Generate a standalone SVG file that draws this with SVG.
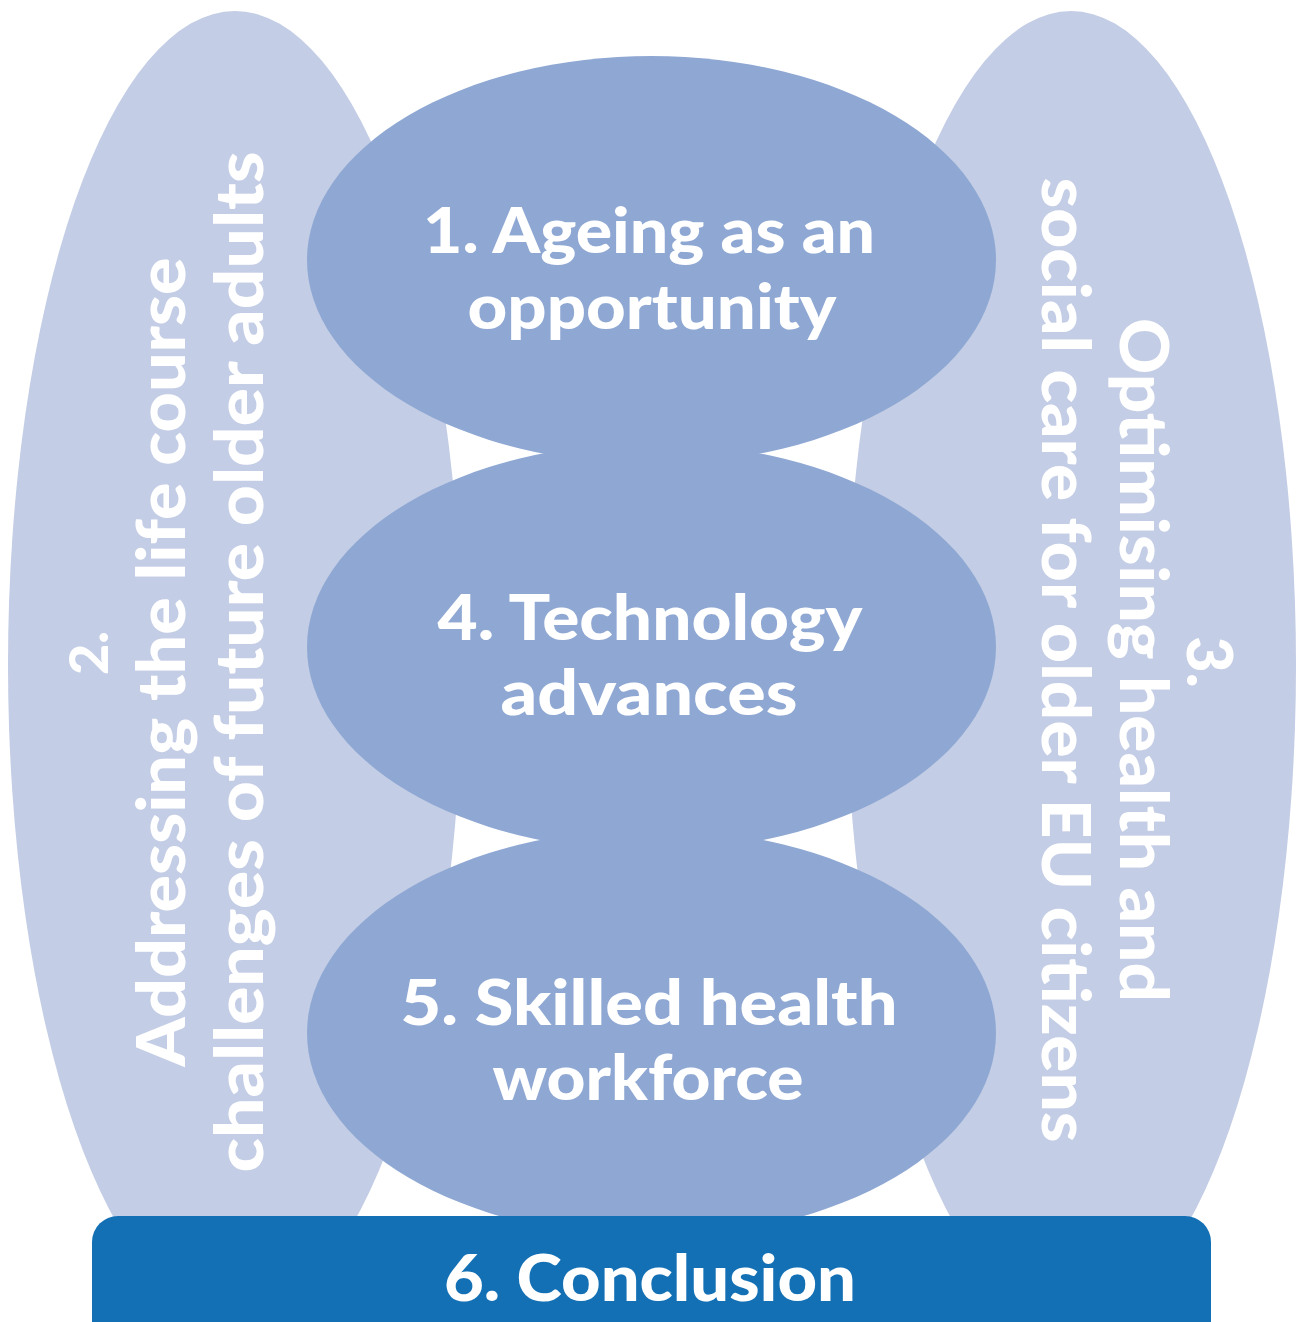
<svg xmlns="http://www.w3.org/2000/svg" width="1299" height="1322" viewBox="0 0 1299 1322">
  <style>
    .side { fill: #C3CDE5; }
    .core { fill: #8FA8D3; }
    .bar { fill: #1470B4; }
    .t { fill: #FFFFFF; font-family: "Lato", "Open Sans", "Liberation Sans", sans-serif; font-weight: 900; text-anchor: middle; }
    .tc { font-size: 63px; }
    .ts { font-size: 66px; }
  </style>
  <rect x="0" y="0" width="1299" height="1322" fill="#FFFFFF"/>
  <g id="node-2">
    <ellipse class="side" cx="235" cy="665" rx="227" ry="654"/>
    <text class="t" font-size="54" transform="translate(108,653) rotate(-90)">2.</text>
    <text class="t ts" transform="translate(185,662) rotate(-90)" textLength="809" lengthAdjust="spacingAndGlyphs">Addressing the life course</text>
    <text class="t ts" transform="translate(263,662) rotate(-90)" textLength="1021" lengthAdjust="spacingAndGlyphs">challenges of future older adults</text>
  </g>
  <g id="node-3">
    <ellipse class="side" cx="1071" cy="665" rx="225" ry="654"/>
    <text class="t" font-size="63" transform="translate(1187,662) rotate(90)">3.</text>
    <text class="t ts" transform="translate(1120,660) rotate(90)" textLength="684" lengthAdjust="spacingAndGlyphs">Optimising health and</text>
    <text class="t ts" transform="translate(1042,660) rotate(90)" textLength="965" lengthAdjust="spacingAndGlyphs">social care for older EU citizens</text>
  </g>
  <g id="node-1">
    <ellipse class="core" cx="651.5" cy="260" rx="344.5" ry="204"/>
    <text class="t tc" x="649" y="253" textLength="452" lengthAdjust="spacingAndGlyphs">1. Ageing as an</text>
    <text class="t tc" x="652" y="329" textLength="369" lengthAdjust="spacingAndGlyphs">opportunity</text>
  </g>
  <g id="node-4">
    <ellipse class="core" cx="651.5" cy="647" rx="344.5" ry="204"/>
    <text class="t tc" x="650" y="640" textLength="425" lengthAdjust="spacingAndGlyphs">4. Technology</text>
    <text class="t tc" x="649" y="715" textLength="297" lengthAdjust="spacingAndGlyphs">advances</text>
  </g>
  <g id="node-5">
    <ellipse class="core" cx="651.5" cy="1033" rx="344.5" ry="204"/>
    <text class="t tc" x="649" y="1025" textLength="497" lengthAdjust="spacingAndGlyphs">5. Skilled health</text>
    <text class="t tc" x="648" y="1100" textLength="311" lengthAdjust="spacingAndGlyphs">workforce</text>
  </g>
  <g id="node-6">
    <rect class="bar" x="92" y="1216" width="1119" height="140" rx="26" ry="26"/>
    <text class="t" font-size="64" x="650" y="1301" textLength="412" lengthAdjust="spacingAndGlyphs">6. Conclusion</text>
  </g>
  <g id="connectors"></g>
</svg>
